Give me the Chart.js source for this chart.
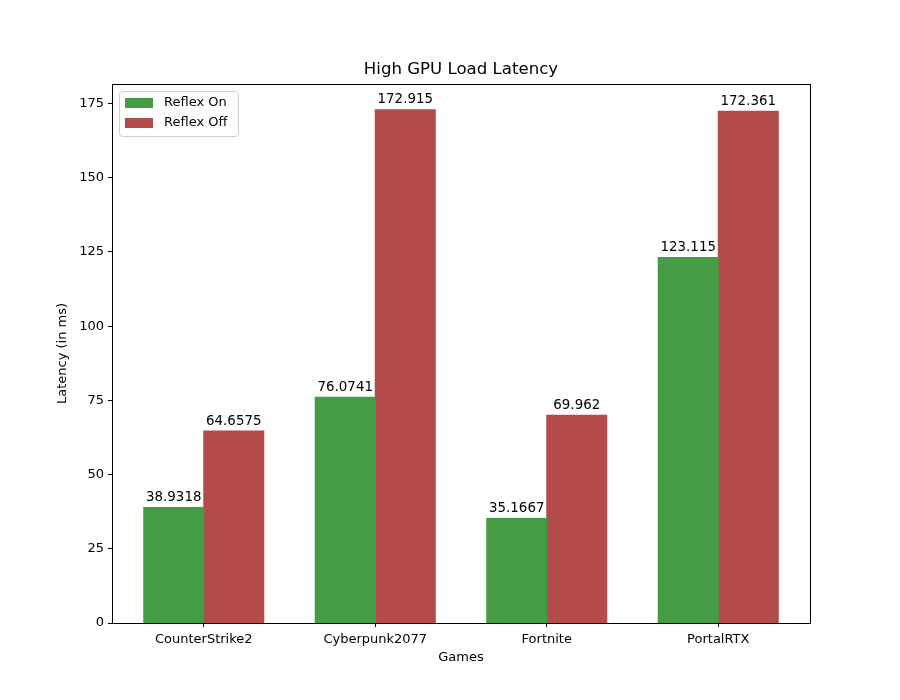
<!DOCTYPE html>
<html>
<head>
<meta charset="utf-8">
<script src="https://cdn.jsdelivr.net/npm/chart.js@4"></script>
<style>
  html, body { margin: 0; padding: 0; background: #fff; }
  #wrap { width: 900px; height: 700px; }
</style>
</head>
<body>
<div id="wrap"><canvas id="latencyChart" width="900" height="700"></canvas></div>
<script>
const games = ['CounterStrike2', 'Cyberpunk2077', 'Fortnite', 'PortalRTX'];
const reflexOn = [38.9318, 76.0741, 35.1667, 123.115];
const reflexOff = [64.6575, 172.915, 69.962, 172.361];
const yTicks = [0, 25, 50, 75, 100, 125, 150, 175];

const FONT = 'DejaVu Sans';

function toPoints(values) {
    return values.map((v, i) => ({ x: i, y: v }));
}

const barLabels = {
    id: 'barLabels',
    afterDatasetsDraw(chart) {
        const { ctx } = chart;
        ctx.save();
        ctx.fillStyle = '#000';
        ctx.font = '13.4px ' + FONT;
        ctx.textAlign = 'center';
        ctx.textBaseline = 'bottom';
        chart.data.datasets.forEach((ds, di) => {
            chart.getDatasetMeta(di).data.forEach((bar, i) => {
                ctx.fillText(String(ds.data[i].y), bar.x, bar.y - 3);
            });
        });
        ctx.restore();
    }
};

const frame = {
    id: 'frame',
    afterDraw(chart) {
        const { ctx, chartArea: a } = chart;
        ctx.save();
        ctx.strokeStyle = '#000';
        ctx.lineWidth = 1;
        ctx.strokeRect(Math.round(a.left) + 0.5, Math.round(a.top) + 0.5,
            Math.round(a.right - a.left), Math.round(a.bottom - a.top));

        // title and axis titles
        ctx.fillStyle = '#000';
        ctx.textAlign = 'center';
        ctx.textBaseline = 'middle';
        ctx.font = '16.6px ' + FONT;
        ctx.fillText('High GPU Load Latency', (a.left + a.right) / 2, 70);
        ctx.font = '13px ' + FONT;
        ctx.fillText('Games', (a.left + a.right) / 2, 658);
        ctx.translate(63, (a.top + a.bottom) / 2);
        ctx.rotate(-Math.PI / 2);
        ctx.fillText('Latency (in ms)', 0, 0);
        ctx.restore();

        // legend
        ctx.save();
        const lx = a.left + 7, ly = a.top + 7, lw = 119, lh = 45;
        ctx.fillStyle = 'rgba(255,255,255,0.8)';
        ctx.strokeStyle = '#d0d0d0';
        ctx.lineWidth = 1;
        ctx.beginPath();
        ctx.roundRect(lx + 0.5, ly + 0.5, lw, lh, 3);
        ctx.fill();
        ctx.stroke();
        ctx.font = '13px ' + FONT;
        ctx.textAlign = 'left';
        ctx.textBaseline = 'middle';
        chart.data.datasets.forEach((ds, i) => {
            const y = ly + 12 + i * 20;
            ctx.fillStyle = ds.backgroundColor;
            ctx.fillRect(lx + 6, y - 5, 28, 10);
            ctx.fillStyle = '#000';
            ctx.fillText(ds.label, lx + 45, y);
        });
        ctx.restore();
    }
};

const ctx = document.getElementById('latencyChart').getContext('2d');
new Chart(ctx, {
    type: 'bar',
    data: {
        datasets: [
            { label: 'Reflex On', data: toPoints(reflexOn), backgroundColor: '#449c44' },
            { label: 'Reflex Off', data: toPoints(reflexOff), backgroundColor: '#b34b4a' }
        ]
    },
    options: {
        responsive: false,
        animation: false,
        devicePixelRatio: 1,
        categoryPercentage: 0.7,
        barPercentage: 1.0,
        borderWidth: 0,
        inflateAmount: 0.5,
        layout: { padding: { top: 84, right: 90, bottom: 0, left: 0 } },
        plugins: {
            legend: { display: false },
            title: { display: false },
            tooltip: { enabled: false }
        },
        scales: {
            x: {
                type: 'linear',
                offset: false,
                min: -0.535,
                max: 3.535,
                afterFit(s) { s.height = 77; },
                afterBuildTicks(s) { s.ticks = games.map((_, i) => ({ value: i })); },
                grid: { drawOnChartArea: false, tickLength: 4, tickColor: '#000', offset: false },
                border: { color: '#000' },
                ticks: {
                    color: '#000',
                    font: { family: FONT, size: 13 },
                    padding: 5,
                    maxRotation: 0,
                    autoSkip: false,
                    callback: v => games[v]
                }
            },
            y: {
                min: 0,
                max: 181.56,
                afterFit(s) { s.width = 112; },
                afterBuildTicks(s) { s.ticks = yTicks.map(v => ({ value: v })); },
                grid: { drawOnChartArea: false, tickLength: 4, tickColor: '#000' },
                border: { color: '#000' },
                ticks: {
                    color: '#000',
                    font: { family: FONT, size: 13 },
                    padding: 4
                }
            }
        }
    },
    plugins: [barLabels, frame]
});
</script>
</body>
</html>
